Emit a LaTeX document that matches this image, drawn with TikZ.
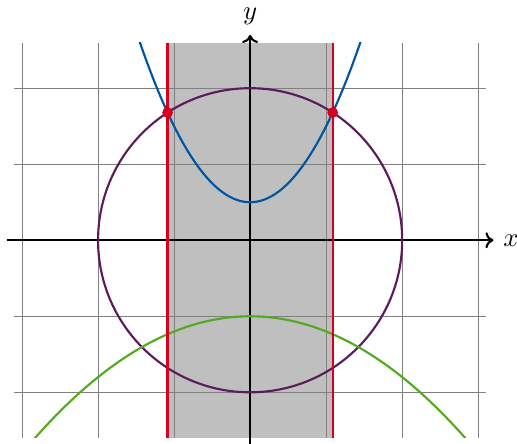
\documentclass[tikz,border=0pt]{standalone}
\usetikzlibrary{arrows.meta}
\definecolor{cblue}{RGB}{0,84,160}
\definecolor{cpurple}{RGB}{92,28,92}
\definecolor{cred}{RGB}{212,0,30}
\definecolor{cgreen}{RGB}{84,170,30}
\tikzset{
  curve/.style={line width=0.8pt},
  redline/.style={line width=0.8pt,draw=cred},
  axis/.style={line width=0.8pt,-{To[length=3pt,width=6pt]}},
  gridline/.style={gray,line width=0.4pt},
  dot/.style={circle,fill=cred,inner sep=0pt,minimum size=4pt}
}
\begin{document}
\begin{tikzpicture}
\useasboundingbox (-3.29,-2.67) rectangle (3.51,3.16);
\pgfmathsetmacro{\xa}{sqrt((sqrt(19)-1)/2-0.5)}
\pgfmathsetmacro{\ya}{(sqrt(19)-1)/2}
\coordinate (lb) at (-\xa,-2.6);
\coordinate (lt) at (-\xa,2.6);
\coordinate (rb) at (\xa,-2.6);
\coordinate (rt) at (\xa,2.6);
\fill[gray!50] (lb) rectangle (rt);
\draw[gridline,step=1] (-3.1,-2.6) grid (3.1,2.6);
\draw[axis] (-3.2,0) -- (3.2,0) node[right] (xl) {$x$};
\draw[axis] (0,-2.7) -- (0,2.7) node[above] (yl) {$y$};
\draw[curve,cpurple] (0,0) circle (2);
\begin{scope}
\clip (-3.1,-2.6) rectangle (3.1,2.6);
\draw[curve,cblue,domain=-1.47:1.47,samples=80] plot (\x,{\x*\x+0.5});
\draw[curve,cgreen,domain=-2.9:2.9,samples=80] plot (\x,{-\x*\x/5-1});
\end{scope}
\draw[redline] (lb) -- (lt);
\draw[redline] (rb) -- (rt);
\node[dot] (p1) at (-\xa,\ya) {};
\node[dot] (p2) at (\xa,\ya) {};
\end{tikzpicture}
\end{document}
